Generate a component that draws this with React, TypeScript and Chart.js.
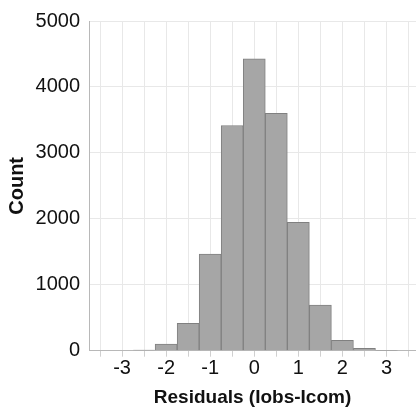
import React, { useEffect, useRef } from "react";
import { Chart, registerables } from "chart.js";

Chart.register(...registerables);

const binCenters = [-3.5, -3, -2.5, -2, -1.5, -1, -0.5, 0, 0.5, 1, 1.5, 2, 2.5, 3, 3.5];
const counts = [0, 0, 10, 100, 415, 1465, 3415, 4425, 3600, 1945, 690, 158, 36, 3, 0];
const xTickValues = [-3.5, -3, -2.5, -2, -1.5, -1, -0.5, 0, 0.5, 1, 1.5, 2, 2.5, 3, 3.5];
const xTickLabels = ["", "-3", "", "-2", "", "-1", "", "0", "", "1", "", "2", "", "3", ""];
const yTickValues = [0, 1000, 2000, 3000, 4000, 5000];

const FONT = "Arial, 'Liberation Sans', Helvetica, sans-serif";

export default function App() {
  const ref = useRef<HTMLCanvasElement | null>(null);

  useEffect(() => {
    document.body.style.margin = "0";
    const canvas = ref.current;
    if (!canvas) return;
    const chart = new Chart(canvas, {
      type: "bar",
      data: {
        datasets: [
          {
            data: binCenters.map((c, i) => ({ x: c, y: counts[i] })),
            backgroundColor: "#a6a6a6",
            borderColor: "#808080",
            borderWidth: 1,
            barPercentage: 1,
            categoryPercentage: 1,
          },
        ],
      },
      options: {
        animation: false,
        responsive: false,
        maintainAspectRatio: false,
        layout: { padding: { top: 20, right: 0, bottom: 2, left: 0 } },
        plugins: { legend: { display: false }, tooltip: { enabled: false } },
        scales: {
          x: {
            type: "linear",
            min: -3.75,
            max: 3.67,
            offset: false,
            grid: { offset: false, color: "#e8e8e8", tickLength: 6, drawTicks: true, tickColor: "#d0d0d0" },
            border: { color: "#b8b8b8" },
            afterBuildTicks: (scale: any) => {
              scale.ticks = xTickValues.map((v) => ({ value: v }));
            },
            ticks: {
              autoSkip: false,
              maxRotation: 0,
              padding: 0,
              color: "#111",
              font: { family: FONT, size: 20 },
              callback: (_v: any, i: number) => xTickLabels[i],
            },
            title: {
              display: true,
              text: "Residuals (Iobs-Icom)",
              color: "#111",
              font: { family: FONT, size: 19, weight: "bold" },
              padding: { top: 0, bottom: 0 },
            },
            afterFit: (scale: any) => {
              scale.height = 58.3;
            },
          },
          y: {
            type: "linear",
            min: 0,
            max: 5000,
            afterBuildTicks: (scale: any) => {
              scale.ticks = yTickValues.map((v) => ({ value: v }));
            },
            grid: { color: "#e8e8e8", drawTicks: false },
            border: { color: "#b8b8b8" },
            ticks: {
              padding: 9,
              color: "#111",
              font: { family: FONT, size: 20 },
              callback: (v: any) => String(v),
            },
            title: {
              display: true,
              text: "Count",
              color: "#111",
              font: { family: FONT, size: 20, weight: "bold" },
              padding: { top: 5, bottom: 0 },
            },
            afterFit: (scale: any) => {
              scale.width = 89;
            },
          },
        },
      },
    } as any);
    return () => chart.destroy();
  }, []);

  return (
    <div style={{ width: 416, height: 411, overflow: "hidden" }}>
      <canvas ref={ref} width={416} height={411} style={{ display: "block" }} />
    </div>
  );
}
